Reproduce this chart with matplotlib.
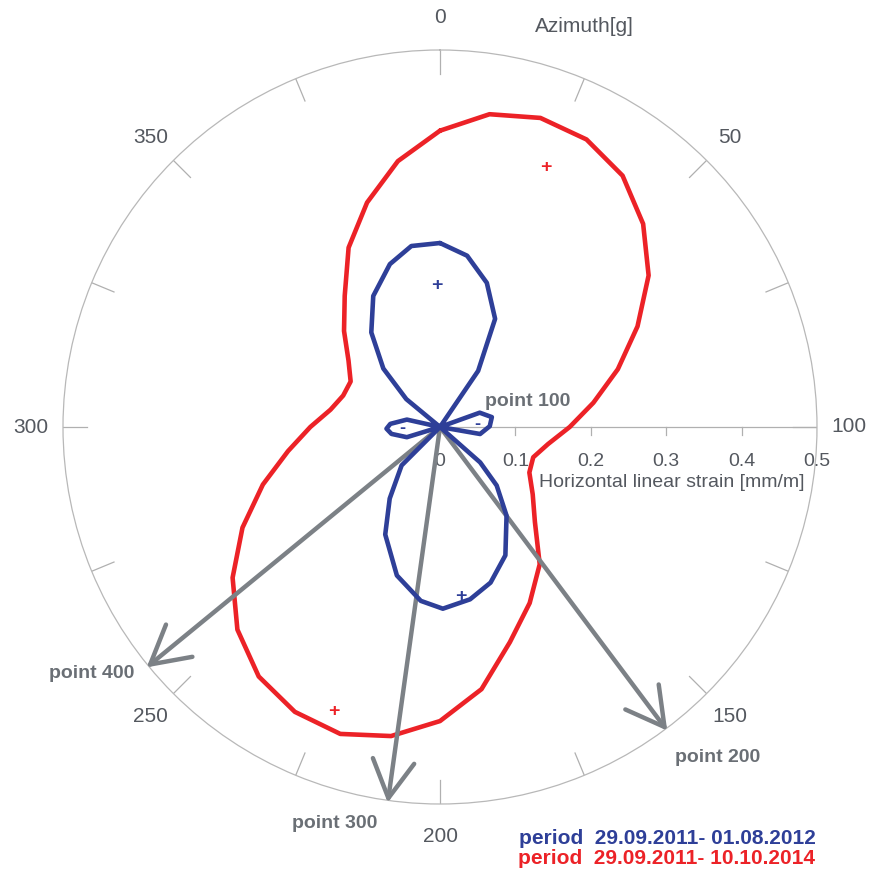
import numpy as np
import matplotlib
matplotlib.use("Agg")
import matplotlib.pyplot as plt

plt.rcParams['font.family'] = ['Liberation Sans', 'DejaVu Sans']

# strain rose, azimuth in gon (0 = north, clockwise), radius = |strain| in mm/m
red_az = list(range(0, 401, 10))
red_strain = [0.393, 0.420, 0.431, 0.428, 0.412, 0.381, 0.342, 0.294, 0.248, 0.206,
              0.172, 0.145, 0.130, 0.133, 0.152, 0.178, 0.225, 0.262, 0.300, 0.352,
              0.390, 0.415, 0.428, 0.424, 0.409, 0.380, 0.340, 0.294, 0.247, 0.204,
              0.172, 0.147, 0.135, 0.133, 0.150, 0.180, 0.215, 0.267, 0.313, 0.357,
              0.393]

blue_az = [0, 10, 20, 30, 38, 48, 78, 88, 99, 111, 125, 146, 151, 159, 170, 180, 189,
           199, 207, 218, 230, 239, 250, 260, 281, 291, 298, 304, 314, 330, 344, 351,
           360, 370, 381, 390, 400]
blue_strain = [0.244, 0.230, 0.201, 0.161, 0.090, 0.0, 0.056, 0.070, 0.066, 0.054, 0.0,
               0.071, 0.108, 0.147, 0.191, 0.217, 0.232, 0.241, 0.232, 0.205, 0.160,
               0.116, 0.072, 0.0, 0.046, 0.065, 0.071, 0.066, 0.045, 0.0, 0.058, 0.108,
               0.155, 0.195, 0.226, 0.243, 0.244]

# sign markers (azimuth gon, radius)
plus_blue = [(398.7, 0.188), (192.2, 0.227)]
plus_red = [(24.7, 0.372), (222.7, 0.403)]
minus_blue = [(298.3, 0.050), (94.9, 0.049)]

# survey point directions
point_names = ['point 200', 'point 300', 'point 400']
point_az = [159.1, 208.8, 256.3]

az_labels = [0, 50, 100, 150, 200, 250, 300, 350]
r_ticks = [0.1, 0.2, 0.3, 0.4, 0.5]

RED = '#ec2227'
BLUE = '#2e3f98'
GRAY = '#7c8186'
TXT = '#54585f'
PTXT = '#6a6f75'


def g2r(g):
    return np.asarray(g, dtype=float) * np.pi / 200.0


def cart(x, y):
    # cartesian (east, north) -> polar (theta from north clockwise, r)
    return np.arctan2(x, y), np.hypot(x, y)


fig = plt.figure(figsize=(8.73, 8.74), dpi=100)
ax = fig.add_axes([63 / 873, 70 / 874, 754 / 873, 754 / 874], projection='polar')
ax.set_theta_zero_location('N')
ax.set_theta_direction(-1)
ax.set_ylim(0, 0.5)
ax.grid(False)
ax.set_xticks([])
ax.set_yticks([])
ax.spines['polar'].set_color('#b8b8b8')
ax.spines['polar'].set_linewidth(0.9)

# outer ticks every 25 gon
for g in range(0, 400, 25):
    ax.plot([g2r(g)] * 2, [0.468, 0.5], color='#b0b0b0', lw=0.9, zorder=1)

for g in az_labels:
    ax.text(g2r(g), 0.543, str(g), ha='center', va='center', fontsize=15,
            color=TXT, clip_on=False)

# radial axis along 100 gon
ax.plot([g2r(100)] * 2, [0, 0.5], color='#b0b0b0', lw=0.9, zorder=1)
for r in r_ticks:
    t, rr = cart(r, -0.011)
    ax.plot([g2r(100), t], [r, rr], color='#b0b0b0', lw=0.9, zorder=1)
for r in [0.0] + r_ticks:
    t, rr = cart(r, -0.046)
    ax.text(t, rr, f'{r:g}', ha='center', va='center', fontsize=14, color=TXT)
t, rr = cart(0.308, -0.074)
ax.text(t, rr, 'Horizontal linear strain [mm/m]', ha='center', va='center',
        fontsize=14, color=TXT)

ax.plot(g2r(red_az), red_strain, color=RED, lw=3.3, zorder=2,
        solid_capstyle='round')

for g in point_az:
    ax.annotate('', xy=(g2r(g), 0.503), xytext=(0, 0),
                arrowprops=dict(arrowstyle='->,head_length=1.35,head_width=0.75',
                                mutation_scale=20, color=GRAY, lw=3.2,
                                shrinkA=0, shrinkB=0, capstyle='round'),
                annotation_clip=False, zorder=3)

ax.plot(g2r(blue_az), blue_strain, color=BLUE, lw=3.3, zorder=4,
        solid_capstyle='round')

for g, r in plus_blue:
    ax.text(g2r(g), r, '+', ha='center', va='center', fontsize=14,
            fontweight='bold', color=BLUE, zorder=5)
for g, r in plus_red:
    ax.text(g2r(g), r, '+', ha='center', va='center', fontsize=14,
            fontweight='bold', color=RED, zorder=5)
for g, r in minus_blue:
    ax.text(g2r(g), r, '-', ha='center', va='center', fontsize=13,
            fontweight='bold', color=BLUE, zorder=5)

# labels placed in figure pixels
def ftext(x, y, s, **kw):
    fig.text(x / 873, 1 - y / 874, s, ha='center', va='center', **kw)

ftext(528, 402, 'point 100', fontsize=14, fontweight='bold', color=PTXT)
ftext(718, 758, 'point 200', fontsize=14, fontweight='bold', color=PTXT)
ftext(335, 824, 'point 300', fontsize=14, fontweight='bold', color=PTXT)
ftext(92, 673, 'point 400', fontsize=14, fontweight='bold', color=PTXT)
ftext(584, 27, 'Azimuth[g]', fontsize=15, color=TXT)
ftext(667, 838, 'period  29.09.2011- 01.08.2012', fontsize=15, fontweight='bold',
      color=BLUE)
ftext(667, 858, 'period  29.09.2011- 10.10.2014', fontsize=15, fontweight='bold',
      color=RED)

fig.savefig('out.png', dpi=100)
